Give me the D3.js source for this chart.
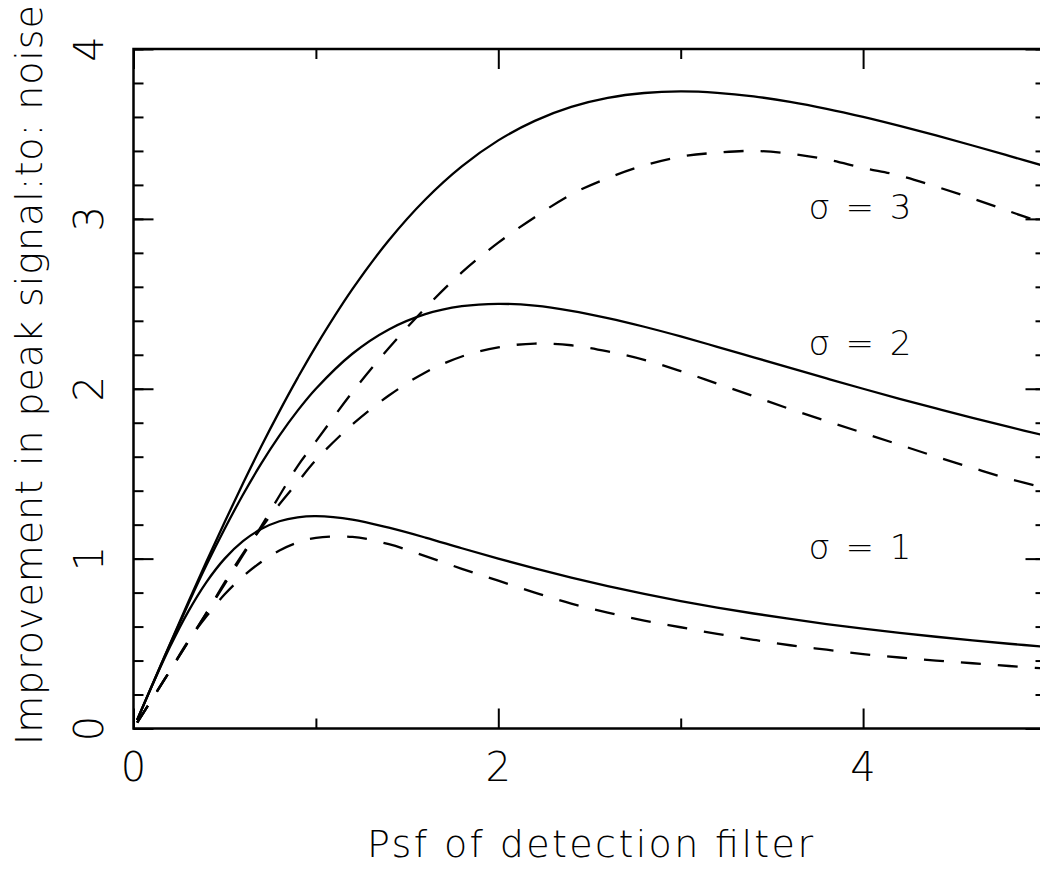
<!doctype html>
<html lang="en">
<head>
<meta charset="utf-8">
<title>psf</title>
<style>
    body {
        margin: 0;
        background-color: white;
    }
    svg text {
        font-family: "DejaVu Sans", sans-serif;
        font-weight: 200;
        fill: black;
    }
    .frame {
        fill: none;
        stroke: black;
        stroke-width: 2.5;
    }
    .ticks line {
        stroke: black;
        stroke-width: 2;
    }
    .ticks path {
        display: none;
    }
    .curve {
        fill: none;
        stroke: black;
        stroke-width: 2.3;
    }
    .dashed {
        stroke-dasharray: 20, 17;
    }
</style>
</head>
<body>
<div id="graph"></div>
<script src="https://d3js.org/d3.v7.min.js"></script>
<script>
// psf of detection filter (x) and the improvement
var psf = [0.02, 0.1, 0.2, 0.3, 0.4, 0.5, 0.6, 0.7, 0.8, 0.9, 1.0,
           1.2, 1.4, 1.6, 1.8, 2.0, 2.2, 2.4, 2.6, 2.8, 3.0,
           3.2, 3.4, 3.6, 3.8, 4.0, 4.2, 4.4, 4.6, 4.8, 5.0];

var solid1 = [0.05, 0.248, 0.481, 0.688, 0.862, 1.0, 1.103, 1.174, 1.22, 1.243, 1.25,
              1.23, 1.182, 1.124, 1.061, 1.0, 0.942, 0.888, 0.838, 0.792, 0.75,
              0.712, 0.677, 0.645, 0.615, 0.588, 0.563, 0.54, 0.519, 0.499, 0.481];
var solid2 = [0.05, 0.249, 0.495, 0.733, 0.962, 1.176, 1.376, 1.559, 1.724, 1.871, 2.0,
              2.206, 2.349, 2.439, 2.486, 2.5, 2.489, 2.459, 2.416, 2.365, 2.308,
              2.247, 2.185, 2.123, 2.061, 2.0, 1.941, 1.884, 1.828, 1.775, 1.724];
var solid3 = [0.05, 0.25, 0.498, 0.743, 0.983, 1.216, 1.442, 1.66, 1.867, 2.064, 2.25,
              2.586, 2.874, 3.114, 3.309, 3.462, 3.577, 3.659, 3.712, 3.741, 3.75,
              3.742, 3.721, 3.689, 3.648, 3.6, 3.547, 3.491, 3.432, 3.371, 3.309];

var dashed1 = [0.034, 0.17, 0.34, 0.515, 0.66, 0.79, 0.895, 0.98, 1.048, 1.095, 1.122,
               1.128, 1.085, 1.015, 0.94, 0.87, 0.8, 0.735, 0.682, 0.635, 0.596,
               0.557, 0.522, 0.49, 0.464, 0.438, 0.418, 0.4, 0.384, 0.368, 0.353];
var dashed2 = [0.034, 0.17, 0.34, 0.51, 0.68, 0.86, 1.03, 1.18, 1.32, 1.45, 1.58,
               1.79, 1.96, 2.096, 2.19, 2.244, 2.266, 2.256, 2.22, 2.17, 2.104,
               2.03, 1.956, 1.88, 1.81, 1.74, 1.67, 1.6, 1.534, 1.47, 1.416];
var dashed3 = [0.034, 0.17, 0.34, 0.51, 0.68, 0.85, 1.02, 1.19, 1.37, 1.545, 1.69,
               1.98, 2.24, 2.475, 2.685, 2.86, 3.01, 3.144, 3.24, 3.315, 3.366,
               3.39, 3.40, 3.384, 3.35, 3.30, 3.255, 3.19, 3.12, 3.045, 2.97];

var xMajor = [0, 2, 4];
var xMinor = [1, 3, 5];
var yMajor = [0, 1, 2, 3, 4];
var yMinor = d3.range(0, 4.01, 0.2);

var sigmaLabels = ["\u03c3 = 1", "\u03c3 = 2", "\u03c3 = 3"];
var sigmaAt = [[3.7, 1.0], [3.7, 2.2], [3.7, 3.0]];

var xTitle = "Psf of detection filter";
var yTitle = "Improvement in peak signal:to: noise";

var svgWidth = 1040;
var svgHeight = 871;

var svg = d3.select("#graph")
            .append("svg")
            .attr("width", svgWidth)
            .attr("height", svgHeight);

var x = d3.scaleLinear().domain([0, 5]).range([133.5, 1045.5]);
var y = d3.scaleLinear().domain([0, 4]).range([728.5, 49]);

// curves
var series = [
    { v: solid1, dash: false }, { v: solid2, dash: false }, { v: solid3, dash: false },
    { v: dashed1, dash: true }, { v: dashed2, dash: true }, { v: dashed3, dash: true }
];

var line = d3.line()
    .x(function(d) { return x(d[0]); })
    .y(function(d) { return y(d[1]); })
    .curve(d3.curveCatmullRom.alpha(0.5));

svg.selectAll(".curve")
    .data(series)
    .enter()
    .append("path")
    .attr("class", function(d) { return d.dash ? "curve dashed" : "curve"; })
    .attr("d", function(d) { return line(psf.map(function(p, i) { return [p, d.v[i]]; })); });

// frame + inward ticks on all four sides
svg.append("rect")
    .attr("class", "frame")
    .attr("x", x(0)).attr("y", y(4))
    .attr("width", x(5) - x(0)).attr("height", y(0) - y(4));

function ticks(axis, values, size, transform) {
    svg.append("g")
        .attr("class", "ticks")
        .attr("transform", transform)
        .call(axis.tickValues(values).tickSize(size).tickSizeOuter(0).tickFormat(""));
}

ticks(d3.axisTop(x), xMajor, 20, "translate(0," + y(0) + ")");
ticks(d3.axisTop(x), xMinor, 10, "translate(0," + y(0) + ")");
ticks(d3.axisBottom(x), xMajor, 20, "translate(0," + y(4) + ")");
ticks(d3.axisBottom(x), xMinor, 10, "translate(0," + y(4) + ")");
ticks(d3.axisRight(y), yMajor, 20, "translate(" + x(0) + ",0)");
ticks(d3.axisRight(y), yMinor, 10, "translate(" + x(0) + ",0)");
ticks(d3.axisLeft(y), yMajor, 20, "translate(" + x(5) + ",0)");
ticks(d3.axisLeft(y), yMinor, 10, "translate(" + x(5) + ",0)");

// tick labels
svg.selectAll(".xlab")
    .data(xMajor)
    .enter()
    .append("text")
    .attr("class", "xlab")
    .attr("x", function(d) { return x(d); })
    .attr("y", 781)
    .attr("text-anchor", "middle")
    .style("font-size", "40px")
    .text(function(d) { return d; });

svg.selectAll(".ylab")
    .data(yMajor)
    .enter()
    .append("text")
    .attr("class", "ylab")
    .attr("transform", function(d) { return "translate(103," + y(d) + ") rotate(-90)"; })
    .attr("text-anchor", "middle")
    .style("font-size", "40px")
    .text(function(d) { return d; });

// curve labels
svg.selectAll(".sig")
    .data(sigmaLabels)
    .enter()
    .append("text")
    .attr("class", "sig")
    .attr("x", function(d, i) { return x(sigmaAt[i][0]); })
    .attr("y", function(d, i) { return y(sigmaAt[i][1]); })
    .attr("textLength", 103)
    .attr("lengthAdjust", "spacing")
    .style("font-size", "34px")
    .text(function(d) { return d; });

// axis titles
svg.append("text")
    .attr("x", 590)
    .attr("y", 857)
    .attr("text-anchor", "middle")
    .attr("textLength", 446)
    .attr("lengthAdjust", "spacing")
    .style("font-size", "38px")
    .text(xTitle);

svg.append("text")
    .attr("transform", "translate(42,375) rotate(-90)")
    .attr("text-anchor", "middle")
    .attr("textLength", 740)
    .attr("lengthAdjust", "spacing")
    .style("font-size", "38px")
    .text(yTitle);
</script>
</body>
</html>
